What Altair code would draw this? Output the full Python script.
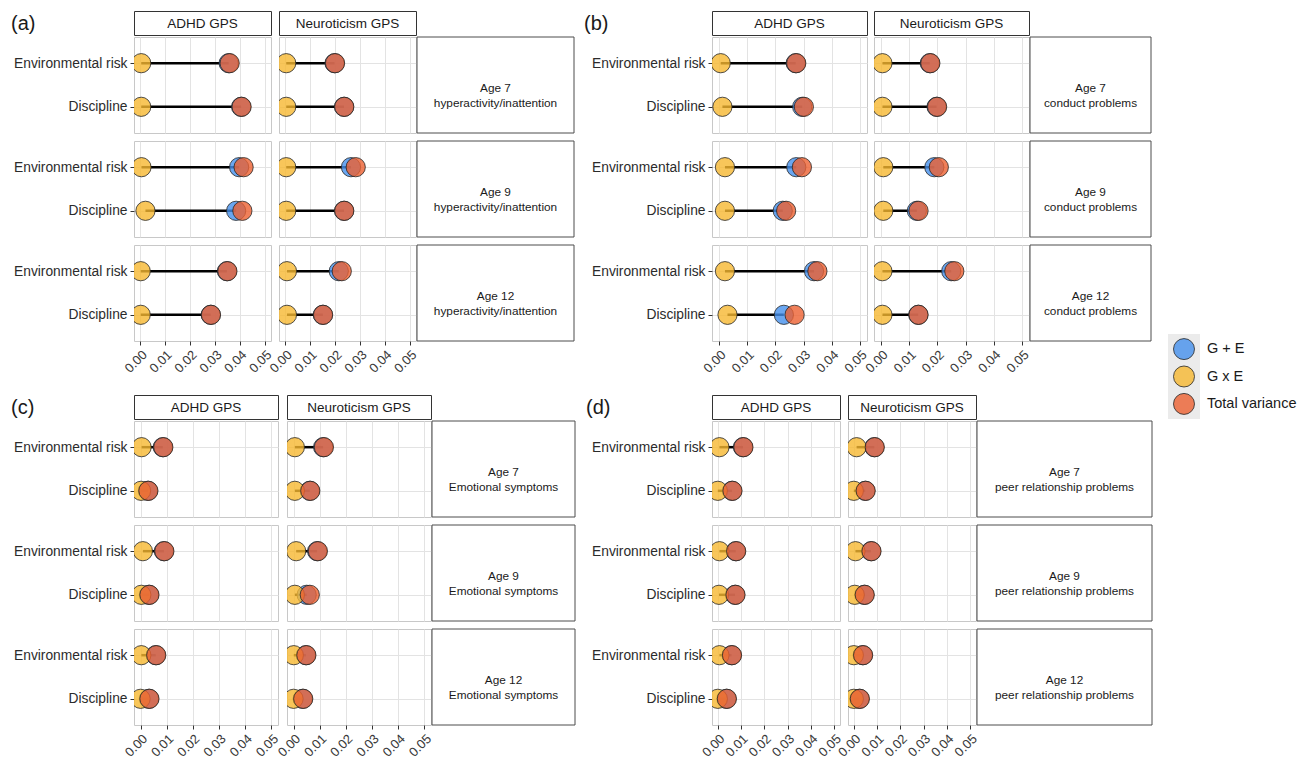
import altair as alt
import pandas as pd

# ---------------- data ----------------
outcomes = ["hyperactivity/inattention", "conduct problems",
            "Emotional symptoms", "peer relationship problems"]
panel_tags = ["(a)", "(b)", "(c)", "(d)"]
ages = ["Age 7", "Age 9", "Age 12"]
gps_names = ["ADHD GPS", "Neuroticism GPS"]
env_names = ["Environmental risk", "Discipline"]
measures = ["G + E", "G x E", "Total variance"]
x_ticks = [0.0, 0.01, 0.02, 0.03, 0.04, 0.05]

# order in each list:
# Age 7 [ADHD: env, disc | Neuro: env, disc], Age 9 [...], Age 12 [...]
gxe_hyper = [0.0004, 0.0004, 0.0004, 0.0004, 0.0005, 0.0021, 0.0004, 0.0004, 0.0002, 0.0002, 0.0007, 0.0007]
gpe_hyper = [0.0355, 0.0405, 0.0198, 0.0236, 0.0397, 0.0385, 0.0264, 0.0236, 0.0348, 0.0283, 0.0215, 0.0151]
tot_hyper = [0.0359, 0.0407, 0.0200, 0.0237, 0.0415, 0.0410, 0.0283, 0.0237, 0.0350, 0.0284, 0.0227, 0.0152]

gxe_conduct = [0.0006, 0.0012, 0.0005, 0.0005, 0.0021, 0.0021, 0.0008, 0.0008, 0.0021, 0.0030, 0.0005, 0.0005]
gpe_conduct = [0.0272, 0.0295, 0.0173, 0.0197, 0.0274, 0.0226, 0.0189, 0.0127, 0.0337, 0.0230, 0.0249, 0.0132]
tot_conduct = [0.0274, 0.0301, 0.0175, 0.0199, 0.0294, 0.0238, 0.0205, 0.0133, 0.0349, 0.0268, 0.0260, 0.0133]

gxe_emotional = [0.0004, 0.0002, 0.0005, 0.0005, 0.0009, 0.0003, 0.0010, 0.0005, 0.0003, 0.0000, 0.0001, 0.0000]
gpe_emotional = [0.0085, 0.0028, 0.0113, 0.0062, 0.0089, 0.0032, 0.0090, 0.0050, 0.0058, 0.0032, 0.0047, 0.0035]
tot_emotional = [0.0087, 0.0030, 0.0116, 0.0064, 0.0091, 0.0034, 0.0093, 0.0062, 0.0060, 0.0034, 0.0049, 0.0037]

gxe_peer = [0.0007, 0.0000, 0.0012, 0.0000, 0.0007, 0.0005, 0.0007, 0.0004, 0.0007, 0.0000, 0.0000, 0.0000]
gpe_peer = [0.0108, 0.0061, 0.0088, 0.0049, 0.0077, 0.0074, 0.0074, 0.0045, 0.0059, 0.0037, 0.0038, 0.0024]
tot_peer = [0.0110, 0.0063, 0.0090, 0.0051, 0.0079, 0.0076, 0.0076, 0.0047, 0.0061, 0.0039, 0.0040, 0.0026]

GXE = [gxe_hyper, gxe_conduct, gxe_emotional, gxe_peer]
GPE = [gpe_hyper, gpe_conduct, gpe_emotional, gpe_peer]
TOT = [tot_hyper, tot_conduct, tot_emotional, tot_peer]

# ---------------- style / layout ----------------
COLORS = ["#4590EC", "#F6B831", "#EC6031"]
CSCALE = alt.Scale(domain=measures, range=COLORS)
GRID = "#e3e3e3"
PANEL_BORDER = "#c8c8c8"
PLOT_W = [137, 155, 144, 128]
GAP = [8, 7, 9, 8]
STRIP_W = [157, 121, 143, 175]
TAG_X = [-123, -128, -123, -126]
ROW_H = 96
STRIP_H = 24
DOT = 370


def cell(k, ai, gi, bottom):
    w = PLOT_W[k]
    pts, segs = [], []
    for ei, env in enumerate(env_names):
        i = ai * 4 + gi * 2 + ei
        trio = [GPE[k][i], GXE[k][i], TOT[k][i]]
        for mi, m in enumerate(measures):
            pts.append({"env": env, "measure": m, "value": trio[mi], "ord": mi})
        segs.append({"env": env, "gxe": GXE[k][i], "gpe": GPE[k][i]})
    xs = alt.Scale(domain=[-0.0025, 0.0525], nice=False, zero=False)
    if bottom:
        xa = alt.Axis(title=None, values=x_ticks, format=".2f", labelAngle=315,
                      labelAlign="right", labelBaseline="top", labelFontSize=13,
                      labelColor="#3a3a3a", labelPadding=3, tickSize=4,
                      labelOverlap=False, labelBound=False, labelFlush=False,
                      tickColor="#333333", domain=False, grid=True, gridColor=GRID)
    else:
        xa = alt.Axis(title=None, values=x_ticks, labels=False, ticks=False,
                      domain=False, grid=True, gridColor=GRID, minExtent=0, maxExtent=0)
    ys = alt.Scale(type="point", domain=env_names, padding=0.6)
    if gi == 0:
        ya = alt.Axis(title=None, labelFontSize=13.8, labelColor="#2b2b2b",
                      labelPadding=3, tickSize=4, tickColor="#333333",
                      domain=False, grid=True, gridColor=GRID)
    else:
        ya = alt.Axis(title=None, labels=False, ticks=False, domain=False,
                      grid=True, gridColor=GRID, minExtent=0, maxExtent=0)
    seg = alt.Chart(pd.DataFrame(segs)).mark_rule(
        color="black", strokeWidth=2.5, clip=True
    ).encode(
        x=alt.X("gxe:Q", scale=xs, axis=xa),
        x2=alt.X2("gpe:Q"),
        y=alt.Y("env:N", scale=ys, axis=ya),
    )
    dots = alt.Chart(pd.DataFrame(pts)).mark_circle(
        size=DOT, opacity=1, fillOpacity=0.8, stroke="#262626",
        strokeWidth=1, strokeOpacity=0.8, clip=True
    ).encode(
        x=alt.X("value:Q", scale=xs, axis=xa),
        y=alt.Y("env:N", scale=ys, axis=ya),
        color=alt.Color("measure:N", scale=CSCALE, legend=None),
        order=alt.Order("ord:Q"),
    )
    return alt.layer(seg, dots).properties(
        width=w, height=ROW_H,
        view=alt.ViewBackground(stroke=PANEL_BORDER, fill="white"))


def top_strip(k, gi):
    w = PLOT_W[k]
    df = pd.DataFrame({"label": [gps_names[gi]], "tag": [panel_tags[k]]})
    base = alt.Chart(df)
    layers = [base.mark_text(fontSize=13.5, color="#1a1a1a").encode(
        text="label:N", x=alt.value(w / 2), y=alt.value(STRIP_H / 2 + 1))]
    if gi == 0:
        layers.append(base.mark_text(fontSize=20, align="left", color="#1a1a1a").encode(
            text="tag:N", x=alt.value(TAG_X[k]), y=alt.value(13)))
    return alt.layer(*layers).properties(
        width=w, height=STRIP_H,
        view=alt.ViewBackground(stroke="#333333", fill="white"))


def row_strip(k, ai):
    g = GAP[k] - 1
    w = STRIP_W[k] - g
    df = pd.DataFrame({"label": [ages[ai] + "\n" + outcomes[k]]})
    base = alt.Chart(df)
    box = base.mark_rect(fill="white", stroke="#4d4d4d", strokeWidth=1).encode(
        x=alt.value(-g), x2=alt.value(w), y=alt.value(0), y2=alt.value(ROW_H))
    txt = base.mark_text(fontSize=11.8, color="#1a1a1a", lineBreak="\n",
                         lineHeight=15).encode(
        text="label:N", x=alt.value((w - g) / 2), y=alt.value(ROW_H / 2 + 3))
    return alt.layer(box, txt).properties(
        width=w, height=ROW_H, view=alt.ViewBackground(stroke="transparent"))


def panel(k):
    strip_row = alt.hconcat(top_strip(k, 0), top_strip(k, 1),
                            spacing=GAP[k], bounds="flush")
    rows = []
    for ai in range(3):
        bottom = ai == 2
        rows.append(alt.hconcat(cell(k, ai, 0, bottom), cell(k, ai, 1, bottom),
                                row_strip(k, ai), spacing=GAP[k], bounds="flush"))
    return alt.vconcat(strip_row, alt.vconcat(*rows, spacing=6), spacing=0)


def legend_col():
    spacer = alt.Chart(pd.DataFrame({"v": [0]})).mark_rect(opacity=0).encode(
        x=alt.value(0), x2=alt.value(1), y=alt.value(0), y2=alt.value(321)
    ).properties(width=10, height=321, view=alt.ViewBackground(stroke="transparent"))
    ldf = pd.DataFrame({"measure": measures})
    ys = alt.Y("measure:N", scale=alt.Scale(type="point", domain=measures, padding=0.55),
               axis=None)
    bg = alt.Chart(pd.DataFrame({"v": [0]})).mark_rect(color="#ebebeb").encode(
        x=alt.value(0), x2=alt.value(32), y=alt.value(0), y2=alt.value(85))
    dots = alt.Chart(ldf).mark_circle(
        size=440, opacity=1, fillOpacity=0.8, stroke="#262626",
        strokeWidth=1, strokeOpacity=0.8
    ).encode(x=alt.value(16), y=ys,
             color=alt.Color("measure:N", scale=CSCALE, legend=None))
    txt = alt.Chart(ldf).mark_text(align="left", fontSize=14.5, color="#1a1a1a").encode(
        x=alt.value(39), y=ys, text="measure:N")
    leg = alt.layer(bg, dots, txt).properties(
        width=124, height=85, view=alt.ViewBackground(stroke="transparent"))
    return alt.vconcat(spacer, leg, spacing=0)


left = alt.vconcat(panel(0), panel(2), spacing=18)
right = alt.vconcat(panel(1), panel(3), spacing=18)
chart = alt.hconcat(alt.hconcat(left, right, spacing=7), legend_col(), spacing=14)
chart = chart.properties(
    padding={"left": 2, "top": 2, "right": 0, "bottom": 0},
    background="white",
).configure(font="Liberation Sans").configure_view(stroke=PANEL_BORDER)

chart.save("out.html", embed_options={"renderer": "svg", "actions": False})
